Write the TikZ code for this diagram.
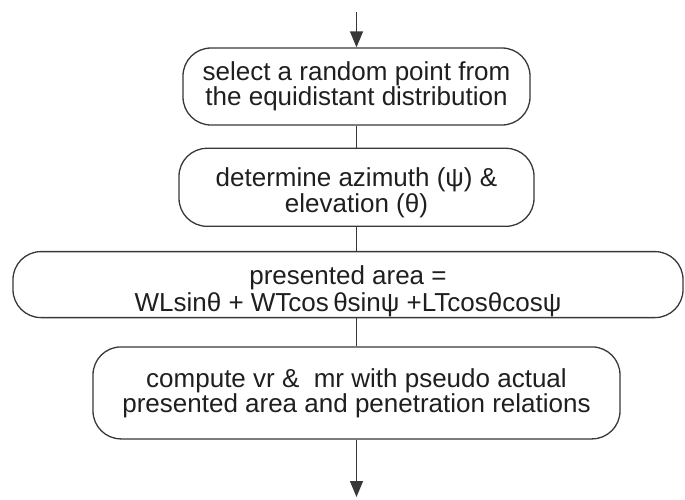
\documentclass[tikz,border=0pt]{standalone}
\usepackage{fontspec}
\setmainfont{Liberation Sans}
\usetikzlibrary{arrows.meta,positioning}

\begin{document}
\begin{tikzpicture}[
  font=\fontsize{26pt}{24pt}\selectfont,
  >={Triangle[length=16pt,width=13pt]},
  stepbox/.style={rectangle, rounded corners=28pt, draw=black!78, line width=1.3pt,
                  align=center, text=black!88, inner sep=4pt},
  ln/.style={line width=1.3pt, draw=black!78},
  ar/.style={->, ln},
]
\useasboundingbox (0,0) rectangle (685pt,-499pt);

% ---------- sampling step ----------
\node[stepbox, minimum width=347pt, minimum height=77pt] (pick) at (356.5pt,-86.5pt)
  {select a random point from\\the equidistant distribution};
\node[stepbox, below=22pt of pick, minimum width=355pt, minimum height=78pt] (angles)
  {\rule{0pt}{30pt}determine azimuth (ψ) \&\\elevation (θ)};

% ---------- presented area (wide box) ----------
\node[stepbox, inner ysep=0pt, below=24pt of pick.south |- angles.south,
      minimum width=670pt, minimum height=66pt, xshift=-8.5pt] (area)
  {\rule{0pt}{32pt}presented area =\\[1pt]WLsinθ + WTcos\,θsinψ +LTcosθcosψ};

% ---------- velocity / mass ----------
\node[stepbox, below=28pt of angles.south |- area.south, minimum width=527pt,
      minimum height=92pt] (calc)
  {compute vr \&~ mr with pseudo actual\\presented area and penetration relations};

% ===== flow in and out =====
\coordinate (in) at (356.5pt,-12pt);
\coordinate (out) at (356.5pt,-497pt);
\draw[ar] (in) -- (pick);
\draw[ln] (pick) -- (angles);
\draw[ln] (angles) -- (angles |- area.north);
\draw[ln] (angles |- area.south) -- (calc);
\draw[ar] (calc) -- (out);

\end{tikzpicture}
\end{document}
